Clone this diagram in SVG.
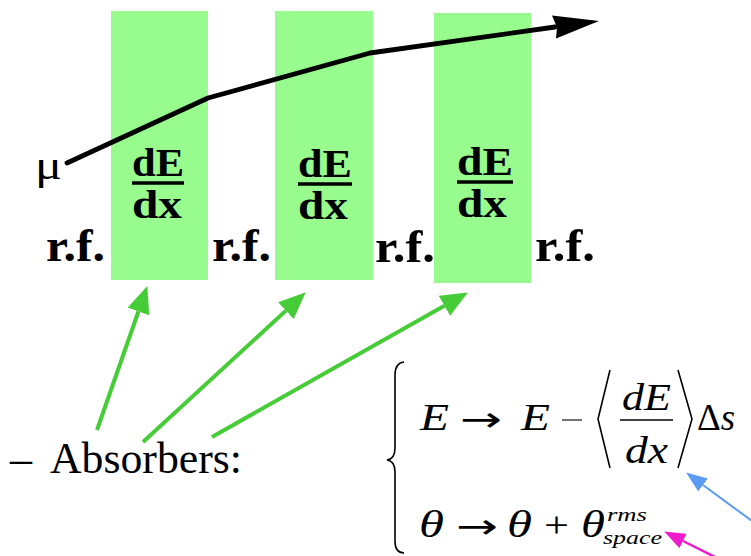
<svg xmlns="http://www.w3.org/2000/svg" width="751" height="556" viewBox="0 0 751 556">
<style>
.abs{fill:#98fb8e}
.bold{font-family:"Liberation Serif","Times New Roman",serif;font-weight:bold;fill:#000}
.frac{font-size:40px}
.rf{font-size:46px}
.bar{stroke:#000;stroke-width:3.5}
.rm{font-family:"Liberation Serif","Times New Roman",serif;fill:#000}
.it{font-family:"Liberation Serif","Times New Roman",serif;font-style:italic;fill:#000}
.sym{font-family:"DejaVu Sans","Noto Sans",sans-serif;fill:#000}
.delim{fill:none;stroke:#000;stroke-width:1.6}
.green{stroke:#46cc36;stroke-width:4;fill:none}
</style>
<defs>
<marker id="gHead" markerUnits="userSpaceOnUse" orient="auto" refX="0" refY="11.5" markerWidth="27" markerHeight="23" viewBox="0 0 27 23">
<path d="M0,0 L27,11.5 L0,23 Z" fill="#46cc36"/>
</marker>
<marker id="bHead" markerUnits="userSpaceOnUse" orient="auto" refX="0" refY="8" markerWidth="21" markerHeight="16" viewBox="0 0 21 16">
<path d="M0,0 L21,8 L0,16 Z" fill="#5a9cf2"/>
</marker>
<marker id="mHead" markerUnits="userSpaceOnUse" orient="auto" refX="0" refY="8" markerWidth="21" markerHeight="16" viewBox="0 0 21 16">
<path d="M0,0 L21,8 L0,16 Z" fill="#ee1ccc"/>
</marker>
</defs>

<g id="absorber1">
<rect class="abs" x="111" y="11" width="97" height="269"/>
<text class="bold frac" x="132" y="176" textLength="52" lengthAdjust="spacingAndGlyphs">dE</text>
<line class="bar" x1="132" y1="183" x2="184" y2="183"/>
<text class="bold frac" x="132" y="218" textLength="50" lengthAdjust="spacingAndGlyphs">dx</text>
</g>
<g id="absorber2">
<rect class="abs" x="275" y="11" width="98" height="269"/>
<text class="bold frac" x="298" y="177" textLength="54" lengthAdjust="spacingAndGlyphs">dE</text>
<line class="bar" x1="298" y1="184" x2="352" y2="184"/>
<text class="bold frac" x="298" y="219" textLength="50" lengthAdjust="spacingAndGlyphs">dx</text>
</g>
<g id="absorber3">
<rect class="abs" x="434" y="13" width="97" height="270"/>
<text class="bold frac" x="457" y="175" textLength="56" lengthAdjust="spacingAndGlyphs">dE</text>
<line class="bar" x1="457" y1="182" x2="513" y2="182"/>
<text class="bold frac" x="457" y="217" textLength="50" lengthAdjust="spacingAndGlyphs">dx</text>
</g>

<g id="rf1"><text class="bold rf" x="46" y="261" textLength="59" lengthAdjust="spacingAndGlyphs">r.f.</text></g>
<g id="rf2"><text class="bold rf" x="212" y="261" textLength="59" lengthAdjust="spacingAndGlyphs">r.f.</text></g>
<g id="rf3"><text class="bold rf" x="375" y="262" textLength="60" lengthAdjust="spacingAndGlyphs">r.f.</text></g>
<g id="rf4"><text class="bold rf" x="535" y="261" textLength="60" lengthAdjust="spacingAndGlyphs">r.f.</text></g>

<g id="muon">
<text class="rm" x="35" y="179" font-size="40" textLength="27" lengthAdjust="spacingAndGlyphs">μ</text>
<polyline points="67,163 208,98 370,53 555,27" fill="none" stroke="#000" stroke-width="4.8" stroke-linejoin="round" stroke-linecap="round"/>
<path d="M599,21 L552,15.5 L557,27.5 L556,38.5 Z" fill="#000"/>
</g>

<g id="label">
<text class="rm" x="10" y="473" font-size="44">–</text>
<text class="rm" x="50" y="473" font-size="44" textLength="192" lengthAdjust="spacingAndGlyphs">Absorbers:</text>
</g>

<g id="equations">
<path class="delim" stroke-width="2.2" d="M404,362 Q395,363 395,375 L395,448 Q395,459 387,460 Q395,461 395,472 L395,541 Q395,553 404,553"/>
<text class="it" x="420" y="430" font-size="37" textLength="29" lengthAdjust="spacingAndGlyphs">E</text>
<text class="sym" x="460" y="431" font-size="34" textLength="42" lengthAdjust="spacingAndGlyphs">→</text>
<text class="it" x="521" y="430" font-size="37" textLength="29" lengthAdjust="spacingAndGlyphs">E</text>
<line x1="562" y1="420" x2="582" y2="420" stroke="#444" stroke-width="1.5"/>
<path class="delim" d="M610,370 L598,419 L610,468"/>
<text class="it" x="622" y="410" font-size="37" textLength="49" lengthAdjust="spacingAndGlyphs">dE</text>
<line x1="620" y1="420" x2="673" y2="420" stroke="#000" stroke-width="1.5"/>
<text class="it" x="625" y="463" font-size="37" textLength="43" lengthAdjust="spacingAndGlyphs">dx</text>
<path class="delim" d="M678,370 L692,419 L678,468"/>
<text class="rm" x="697" y="430" font-size="37">Δ<tspan class="it">s</tspan></text>
<text class="it" x="419" y="537" font-size="38" textLength="25" lengthAdjust="spacingAndGlyphs">θ</text>
<text class="sym" x="456" y="538" font-size="34" textLength="42" lengthAdjust="spacingAndGlyphs">→</text>
<text class="it" x="507" y="537" font-size="38" textLength="25" lengthAdjust="spacingAndGlyphs">θ</text>
<text class="rm" x="544" y="537" font-size="36" textLength="25" lengthAdjust="spacingAndGlyphs">+</text>
<text class="it" x="581" y="537" font-size="38" textLength="24" lengthAdjust="spacingAndGlyphs">θ</text>
<text class="it" x="607" y="521" font-size="19" textLength="40" lengthAdjust="spacingAndGlyphs">rms</text>
<text class="it" x="603" y="544" font-size="19" textLength="59" lengthAdjust="spacingAndGlyphs">space</text>
</g>

<g id="connectors">
<line class="green" x1="97" y1="430" x2="138.4" y2="311.5" marker-end="url(#gHead)"/>
<line class="green" x1="143" y1="442" x2="285.9" y2="310.6" marker-end="url(#gHead)"/>
<line class="green" x1="212" y1="437" x2="444.4" y2="305.8" marker-end="url(#gHead)"/>
<line x1="756" y1="524" x2="703" y2="485" stroke="#5a9cf2" stroke-width="2" marker-end="url(#bHead)"/>
<line x1="717" y1="558" x2="683" y2="541" stroke="#ee1ccc" stroke-width="2.5" marker-end="url(#mHead)"/>
</g>
</svg>
